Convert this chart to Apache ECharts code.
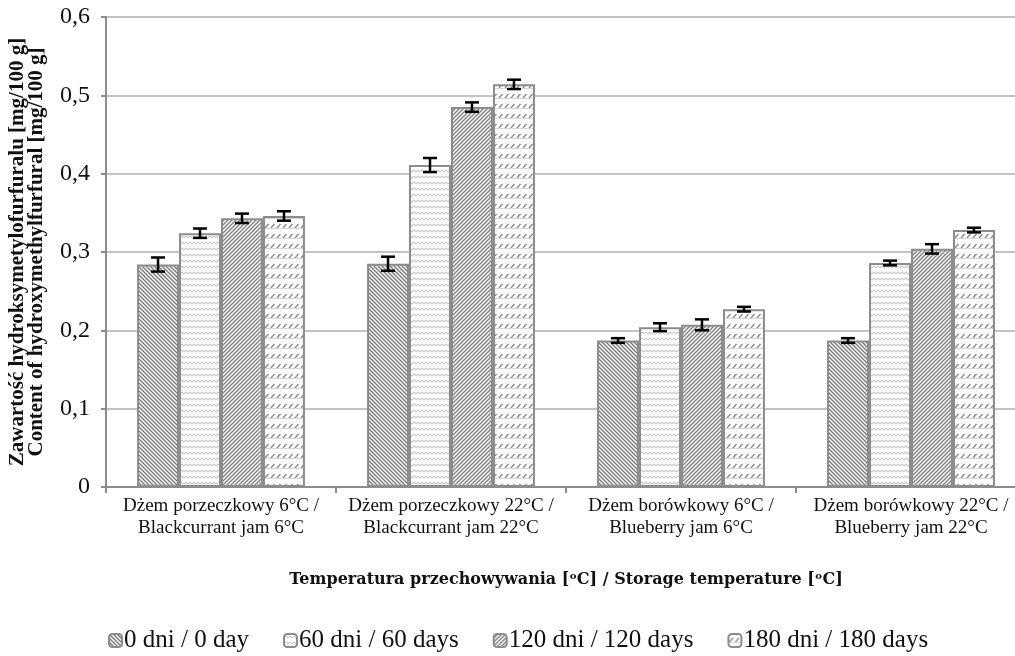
<!DOCTYPE html>
<html>
<head>
<meta charset="utf-8">
<script src="https://cdn.jsdelivr.net/npm/echarts@6/dist/echarts.min.js"></script>
<style>html,body{margin:0;padding:0;background:#fff;}#c{width:1015px;height:656px;}</style>
</head>
<body>
<div id="c"></div>
<script>
// ---- data ----
const categories = [
  'Dżem porzeczkowy 6°C /\nBlackcurrant jam 6°C',
  'Dżem porzeczkowy 22°C /\nBlackcurrant jam 22°C',
  'Dżem borówkowy 6°C /\nBlueberry jam 6°C',
  'Dżem borówkowy 22°C /\nBlueberry jam 22°C'
];
const seriesNames = ['0 dni / 0 day', '60 dni / 60 days', '120 dni / 120 days', '180 dni / 180 days'];
const days0   = [0.284, 0.285, 0.187, 0.187];
const days60  = [0.324, 0.411, 0.204, 0.286];
const days120 = [0.343, 0.485, 0.207, 0.304];
const days180 = [0.346, 0.514, 0.227, 0.328];
const err0   = [0.009, 0.009, 0.003, 0.003];
const err60  = [0.006, 0.009, 0.005, 0.003];
const err120 = [0.006, 0.006, 0.007, 0.006];
const err180 = [0.006, 0.006, 0.003, 0.003];
const yTickValues = [0, 0.1, 0.2, 0.3, 0.4, 0.5, 0.6];

const values = [days0, days60, days120, days180];
const errors = [err0, err60, err120, err180];

// ---- patterns ----
function mk(w, h, draw) {
  const c = document.createElement('canvas');
  c.width = w; c.height = h;
  const g = c.getContext('2d');
  g.fillStyle = '#fff'; g.fillRect(0, 0, w, h);
  draw(g, w, h);
  return c;
}
const pat1 = mk(4, 4, (g) => { // "\\\" dark
  g.strokeStyle = '#7a7a7a'; g.lineWidth = 1.4;
  for (let k = -1; k <= 1; k++) { g.beginPath(); g.moveTo(k * 4 - 1, -1); g.lineTo(k * 4 + 5, 5); g.stroke(); }
});
const pat2 = mk(8, 6, (g) => { // wavy
  g.strokeStyle = '#cacaca'; g.lineWidth = 1.1;
  g.beginPath(); g.moveTo(0, 4); g.lineTo(2, 2); g.lineTo(4, 4); g.lineTo(6, 2); g.lineTo(8, 4); g.stroke();
});
const pat3 = mk(4, 4, (g) => { // "///" dense
  g.strokeStyle = '#858585'; g.lineWidth = 1.5;
  for (let k = -1; k <= 1; k++) { g.beginPath(); g.moveTo(k * 4 - 1, 5); g.lineTo(k * 4 + 5, -1); g.stroke(); }
});
const pat4 = mk(6, 10, (g) => { // short dashed slashes in rows
  g.strokeStyle = '#8a8a8a'; g.lineWidth = 1.3;
  g.beginPath(); g.moveTo(1, 8); g.lineTo(4.5, 4); g.stroke();
  g.strokeStyle = '#d6d6d6'; g.lineWidth = 1;
  g.beginPath(); g.moveTo(0, 8.5); g.lineTo(6, 8.5); g.stroke();
});
const pats = [pat1, pat2, pat3, pat4];

const GAP = 0.27;
const font = 'Liberation Serif, Times New Roman, serif';

const barSeries = seriesNames.map((n, i) => ({
  name: n,
  type: 'bar',
  data: values[i],
  barGap: '0%',
  barCategoryGap: (GAP * 100) + '%',
  itemStyle: { color: { image: pats[i], repeat: 'repeat' }, borderColor: '#8c8c8c', borderWidth: 2 },
  emphasis: { disabled: true },
  z: 2
}));

const errData = [];
values.forEach((arr, s) => arr.forEach((v, c) => errData.push([c, v, errors[s][c], s])));

const errSeries = {
  type: 'custom',
  data: errData,
  z: 5,
  silent: true,
  renderItem: function (params, api) {
    const c = api.value(0), v = api.value(1), e = api.value(2), s = api.value(3);
    const band = api.size([1, 0])[0];
    const bw = band * (1 - GAP) / 4;
    const cx = api.coord([c, 0])[0] + (s - 1.5) * bw;
    const yT = api.coord([c, v + e])[1];
    const yB = api.coord([c, v - e])[1];
    const hw = 7;
    const st = { stroke: '#000', lineWidth: 2.5 };
    return {
      type: 'group',
      children: [
        { type: 'line', shape: { x1: cx, y1: yT, x2: cx, y2: yB }, style: st },
        { type: 'line', shape: { x1: cx - hw, y1: yT, x2: cx + hw, y2: yT }, style: st },
        { type: 'line', shape: { x1: cx - hw, y1: yB, x2: cx + hw, y2: yB }, style: st }
      ]
    };
  }
};

const chart = echarts.init(document.getElementById('c'), null, { renderer: 'canvas' });
chart.setOption({
  animation: false,
  backgroundColor: '#fff',
  grid: { left: 106, right: -11, top: 17, bottom: 169, containLabel: false, outerBoundsMode: 'none' },
  legend: {
    data: seriesNames,
    bottom: -2,
    left: 103,
    itemWidth: 13,
    itemHeight: 13,
    itemGap: 34,
    textStyle: { fontFamily: font, fontSize: 25, color: '#111', padding: [0, 0, 0, -3] }
  },
  xAxis: {
    type: 'category',
    data: categories,
    axisLine: { lineStyle: { color: '#8c8c8c', width: 2 } },
    axisTick: { show: true, length: 6, lineStyle: { color: '#8c8c8c', width: 2 } },
    axisLabel: { interval: 0, fontFamily: font, fontSize: 19, lineHeight: 22, color: '#111', margin: 8 },
    name: 'Temperatura przechowywania [ᵒC] / Storage temperature [ᵒC]',
    nameLocation: 'middle',
    nameGap: 85,
    nameTextStyle: { fontFamily: 'DejaVu Serif, serif', fontWeight: 'bold', fontSize: 16, color: '#111' }
  },
  yAxis: {
    type: 'value',
    min: 0, max: 0.6, interval: 0.1,
    axisLine: { show: true, lineStyle: { color: '#8c8c8c', width: 2 } },
    axisTick: { show: true, length: 5, lineStyle: { color: '#8c8c8c', width: 2 } },
    splitLine: { lineStyle: { color: '#c3c3c3', width: 2 } },
    axisLabel: {
      fontFamily: font, fontSize: 24, color: '#111', margin: 16,
      customValues: yTickValues,
      formatter: (v) => (v === 0 ? '0' : v.toFixed(1).replace('.', ','))
    },
    name: 'Zawartość hydroksymetylofurfuralu [mg/100 g]\nContent of hydroxymethylfurfural [mg/100 g]',
    nameLocation: 'middle',
    nameRotate: 90,
    nameGap: 60,
    nameTextStyle: { fontFamily: font, fontWeight: 'bold', fontSize: 21, lineHeight: 19, color: '#111' }
  },
  series: barSeries.concat([errSeries])
});
</script>
</body>
</html>
